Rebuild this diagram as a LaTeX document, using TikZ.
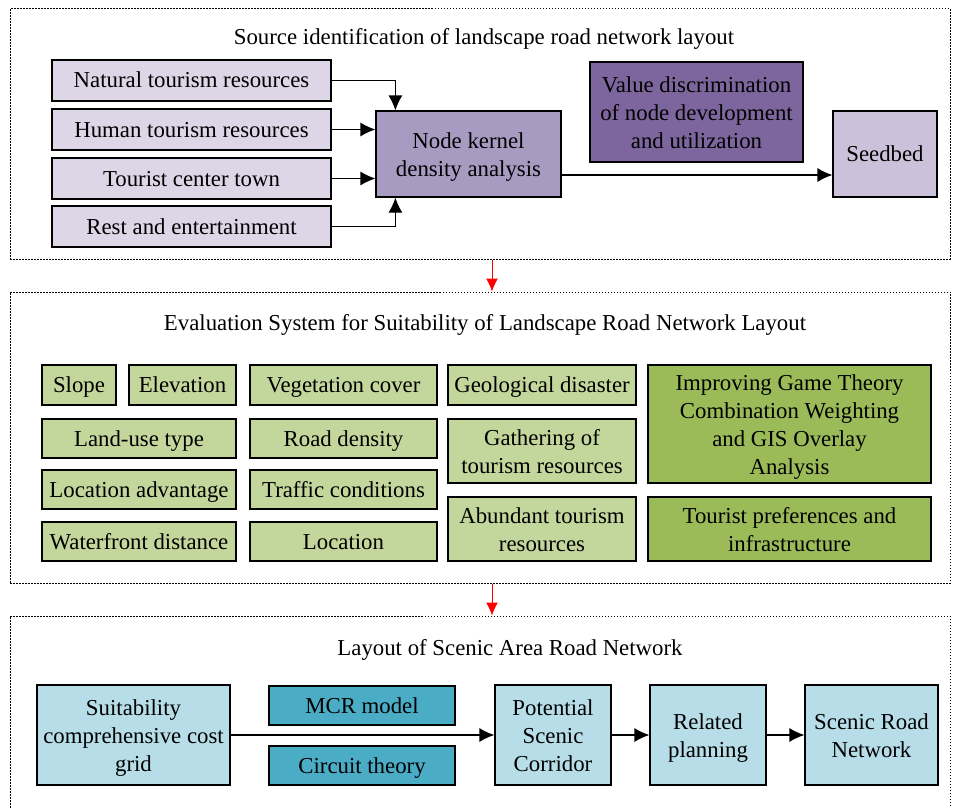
\documentclass[tikz,border=0pt]{standalone}
\usepackage{fontspec}
\setmainfont{Liberation Serif}
\usepackage{xcolor}
\usetikzlibrary{arrows.meta}
\usetikzlibrary{positioning}
\definecolor{lavlight}{RGB}{220,214,230}
\definecolor{lavmid}{RGB}{168,155,194}
\definecolor{lavdark}{RGB}{124,102,157}
\definecolor{lavseed}{RGB}{204,193,218}
\definecolor{greenlight}{RGB}{195,214,155}
\definecolor{greendark}{RGB}{155,187,89}
\definecolor{bluelight}{RGB}{183,222,232}
\definecolor{bluedark}{RGB}{75,172,198}
\newcommand{\boxstrut}{\rule[-6pt]{0pt}{27pt}}
\newcommand{\topstrut}{\rule{0pt}{22pt}}

\begin{document}
\begin{tikzpicture}[x=1pt,y=-1pt,>={Latex[length=15pt,width=14pt]},
	font=\fontsize{22.8}{28}\selectfont,
	box/.style={rectangle, draw=black, line width=1.2pt, inner sep=2pt, align=center,
		execute at begin node=\boxstrut, execute at end node=\boxstrut},
	panel/.style={rectangle, draw=black, dash pattern=on 1.5pt off 1.5pt, line width=1pt},
	link/.style={->, line width=1.2pt},
	redlink/.style={-{Latex[length=13pt,width=12pt]}, red, line width=1pt}]
	\useasboundingbox (0,0) rectangle (953,808);
	% panels
	\node[panel, minimum width=940pt, minimum height=250pt] (p1) at (480,134) {};
	\node[panel, minimum width=940pt, minimum height=291pt] (p2) at (480,437.5) {};
	\node[panel, minimum width=940pt, minimum height=204pt] (p3) at (480,718) {};
	\node (t1) at (484,39) {Source identification of landscape road network layout};
	\node (t2) at (485,325) {Evaluation System for Suitability of Landscape Road Network Layout};
	\node (t3) at (510,650) {Layout of Scenic Area Road Network};
	\coordinate (ax) at (492,0);
	\draw[redlink] (ax |- p1.south) -- (ax |- p2.north);
	\draw[redlink] (ax |- p2.south) -- (ax |- p3.north);

	% source identification
	\node[box, fill=lavlight, minimum width=279pt, minimum height=41pt] (nat) at (191.5,80.5) {Natural tourism resources};
	\node[box, fill=lavlight, minimum width=279pt, minimum height=41pt] (hum) at (191.5,129.5) {Human tourism resources};
	\node[box, fill=lavlight, minimum width=279pt, minimum height=41pt] (tour) at (191.5,178.5) {Tourist center town};
	\node[box, fill=lavlight, minimum width=279pt, minimum height=41pt] (rest) at (191.5,226.5) {Rest and entertainment};
	\node[box, fill=lavmid, minimum width=185pt, minimum height=86pt] (kernel) at (468.5,154) {\topstrut Node kernel\\density analysis};
	\node[box, fill=lavdark, minimum width=213pt, minimum height=100pt] (value) at (696.5,112) {\topstrut Value discrimination\\of node development\\and utilization};
	\node[box, fill=lavseed, minimum width=104pt, minimum height=86pt] (seed) at (885,154) {Seedbed};
	\draw[link] (nat.east) -| ([xshift=20pt]kernel.north west);
	\draw[link] (hum.east) -- (hum.east -| kernel.west);
	\draw[link] (tour.east) -- (tour.east -| kernel.west);
	\draw[link] (rest.east) -| ([xshift=20pt]kernel.south west);
	\draw[link] ([yshift=-21pt]kernel.east) -- ([yshift=-21pt]seed.west);

	% evaluation system
	\node[box, fill=greenlight, minimum width=74pt, minimum height=40pt] (slope) at (79,385) {Slope};
	\node[box, fill=greenlight, minimum width=107pt, minimum height=40pt] (elev) at (182.5,385) {Elevation};
	\node[box, fill=greenlight, minimum width=187pt, minimum height=40pt] (veg) at (343.5,385) {Vegetation cover};
	\node[box, fill=greenlight, minimum width=188pt, minimum height=40pt] (geo) at (542,385) {Geological disaster};
	\node[box, fill=greenlight, minimum width=194pt, minimum height=39pt] (land) at (139,438.5) {Land-use type};
	\node[box, fill=greenlight, minimum width=187pt, minimum height=39pt] (road) at (343.5,438.5) {Road density};
	\node[box, fill=greenlight, minimum width=188pt, minimum height=64pt] (gath) at (542,451) {\topstrut Gathering of\\tourism resources};
	\node[box, fill=greenlight, minimum width=194pt, minimum height=39pt] (locadv) at (139,489.5) {Location advantage};
	\node[box, fill=greenlight, minimum width=187pt, minimum height=39pt] (traf) at (343.5,489.5) {Traffic conditions};
	\node[box, fill=greenlight, minimum width=188pt, minimum height=64pt] (abun) at (542,529) {\topstrut Abundant tourism\\resources};
	\node[box, fill=greenlight, minimum width=194pt, minimum height=39pt] (water) at (139,541.5) {Waterfront distance};
	\node[box, fill=greenlight, minimum width=187pt, minimum height=39pt] (loc) at (343.5,541.5) {Location};
	\node[box, fill=greendark, minimum width=283pt, minimum height=118pt] (game) at (789.5,424) {\topstrut Improving Game Theory\\Combination Weighting\\and GIS Overlay\\Analysis};
	\node[box, fill=greendark, minimum width=283pt, minimum height=64pt] (pref) at (789.5,529) {\topstrut Tourist preferences and\\infrastructure};

	% road network layout
	\node[box, fill=bluelight, minimum width=193pt, minimum height=100pt] (suit) at (133.5,735) {\topstrut Suitability\\comprehensive cost\\grid};
	\node[box, fill=bluedark, minimum width=186pt, minimum height=39pt] (mcr) at (362,705.5) {MCR model};
	\node[box, fill=bluedark, minimum width=186pt, minimum height=39pt] (circ) at (362,765.5) {Circuit theory};
	\node[box, fill=bluelight, minimum width=116pt, minimum height=100pt] (pot) at (553,735) {\topstrut Potential\\Scenic\\Corridor};
	\node[box, fill=bluelight, minimum width=116pt, minimum height=100pt] (rel) at (708,735) {\topstrut Related\\planning};
	\node[box, fill=bluelight, minimum width=133pt, minimum height=100pt] (scen) at (871.5,735) {\topstrut Scenic Road\\Network};
	\draw[link] (suit.east) -- (pot.west);
	\draw[link] (pot.east) -- (rel.west);
	\draw[link] (rel.east) -- (scen.west);
\end{tikzpicture}
\end{document}
